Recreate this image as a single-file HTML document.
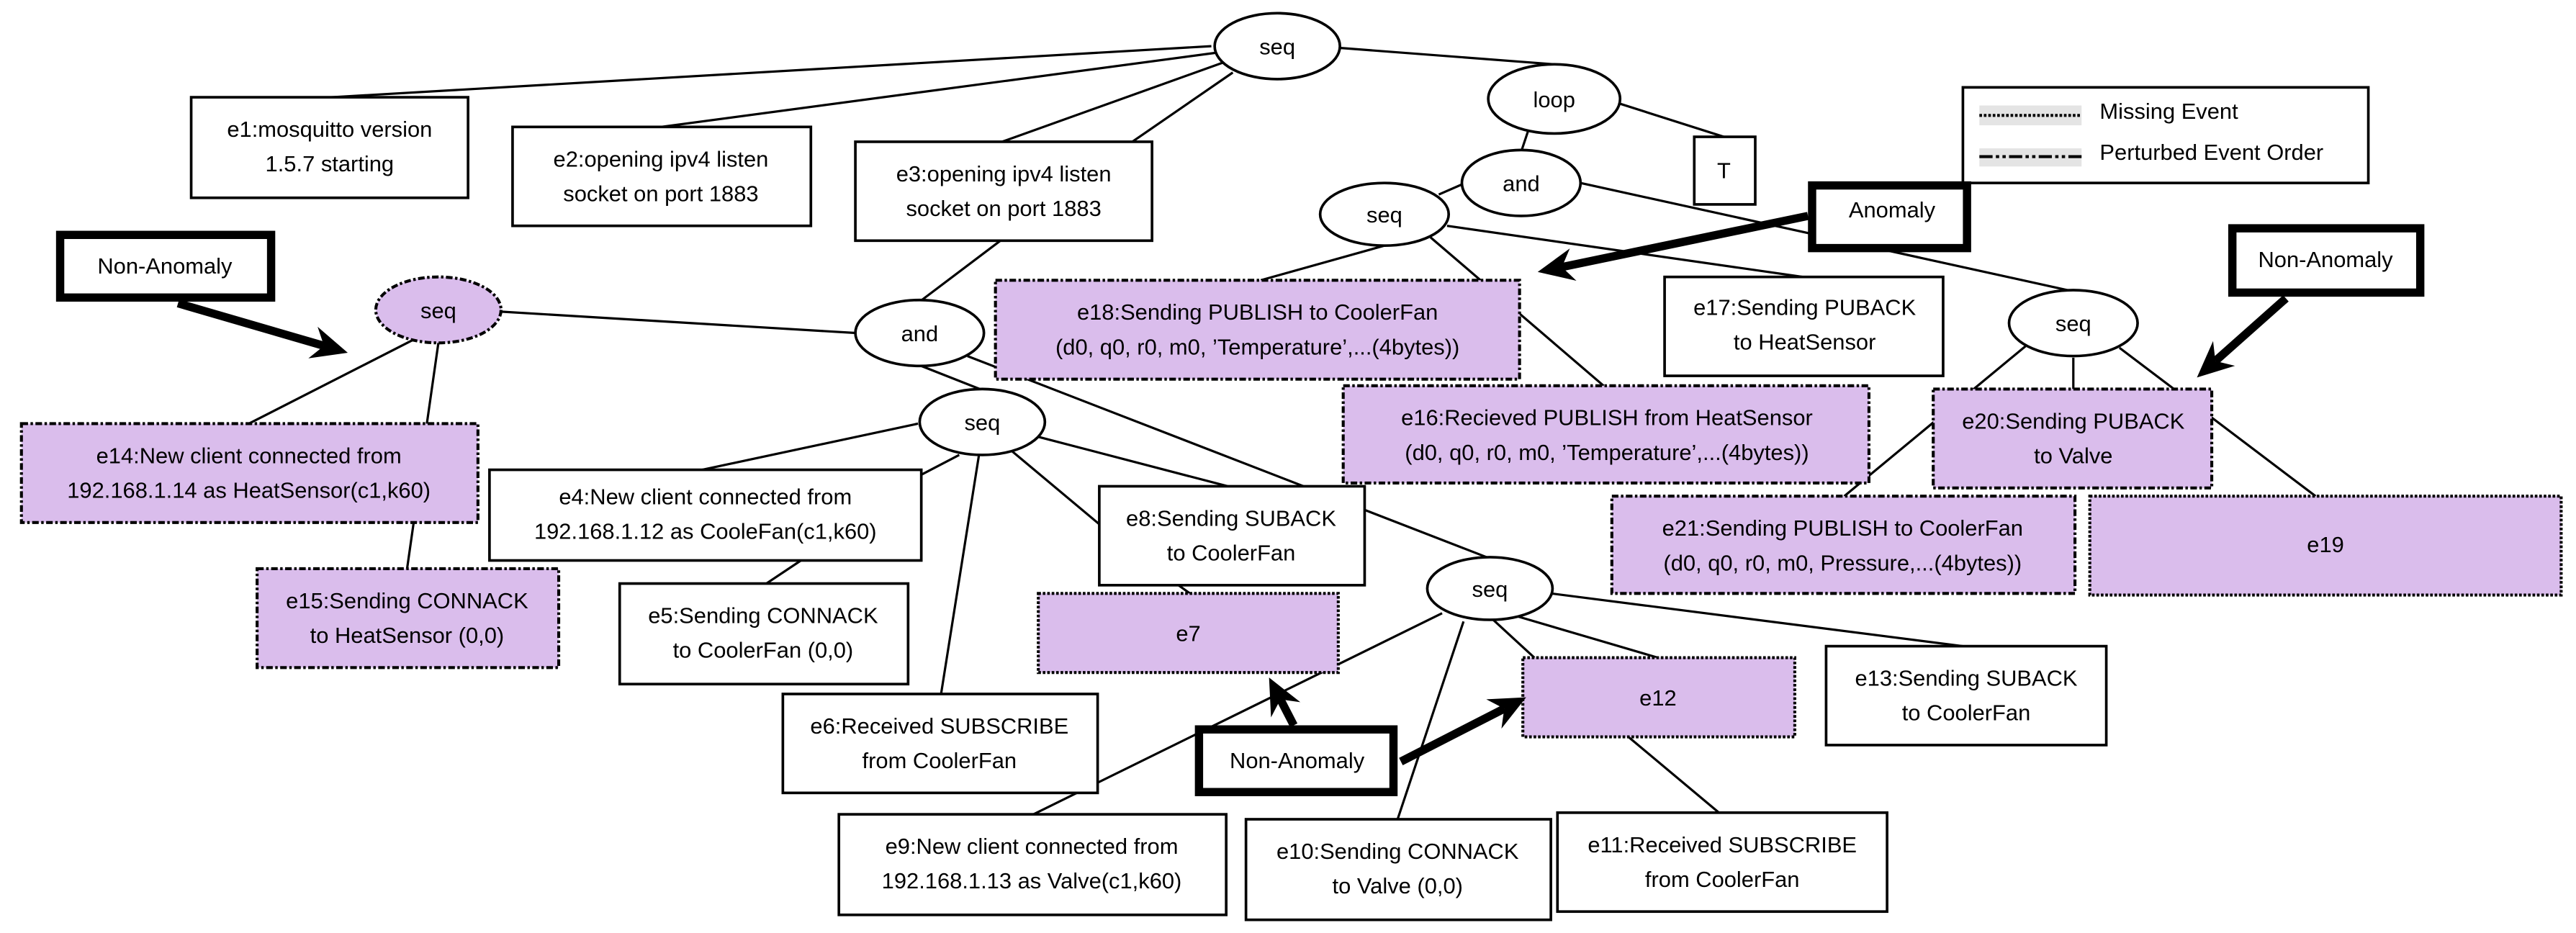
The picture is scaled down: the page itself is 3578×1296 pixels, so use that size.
<!DOCTYPE html>
<html><head><meta charset="utf-8"><style>
html,body{margin:0;padding:0;background:#fff;}
svg{display:block;}
text{font-family:"Liberation Sans",sans-serif;font-size:13.5px;fill:#000;}
</style></head><body>
<svg xmlns="http://www.w3.org/2000/svg" width="3578" height="1296" viewBox="0 0 1563 566" preserveAspectRatio="none">
<rect width="1563" height="566" fill="#fff"/>
<g stroke="#000" stroke-width="1.4" fill="none">
<line x1="735" y1="28" x2="201" y2="59"/>
<line x1="738" y1="32" x2="401" y2="77"/>
<line x1="742" y1="38" x2="608" y2="86"/>
<line x1="748" y1="44" x2="687" y2="86"/>
<line x1="812" y1="29" x2="943" y2="39"/>
<line x1="980" y1="62" x2="1046" y2="83"/>
<line x1="927" y1="80" x2="923" y2="92"/>
<line x1="889" y1="111" x2="873" y2="118"/>
<line x1="840" y1="149" x2="765" y2="170"/>
<line x1="868" y1="144" x2="973" y2="234"/>
<line x1="878" y1="137" x2="1094" y2="168"/>
<line x1="959" y1="111" x2="1259" y2="177"/>
<line x1="1229" y1="210" x2="1119" y2="301"/>
<line x1="1258" y1="217" x2="1258" y2="236"/>
<line x1="1286" y1="211" x2="1405" y2="301"/>
<line x1="607" y1="146" x2="558" y2="183"/>
<line x1="303" y1="189" x2="519" y2="202"/>
<line x1="251" y1="206" x2="151" y2="257"/>
<line x1="266" y1="208" x2="259" y2="257"/>
<line x1="251" y1="317" x2="247" y2="345"/>
<line x1="559" y1="222" x2="597" y2="237"/>
<line x1="587" y1="216" x2="902" y2="338"/>
<line x1="557" y1="257" x2="426" y2="285"/>
<line x1="582" y1="276" x2="559" y2="288"/>
<line x1="594" y1="276" x2="571" y2="421"/>
<line x1="612" y1="272" x2="667" y2="318"/>
<line x1="630" y1="265" x2="745" y2="295"/>
<line x1="486" y1="340" x2="465" y2="354"/>
<line x1="715" y1="355" x2="722" y2="360"/>
<line x1="875" y1="372" x2="627" y2="494"/>
<line x1="888" y1="377" x2="848" y2="497"/>
<line x1="906" y1="376" x2="931" y2="399"/>
<line x1="921" y1="374" x2="1006" y2="399"/>
<line x1="941" y1="360" x2="1191" y2="392"/>
<line x1="988" y1="447" x2="1043" y2="493"/>
</g>
<g stroke="#000" stroke-width="1.6">
<rect x="116" y="59" width="168" height="61" fill="#fff"/>
<rect x="311" y="77" width="181" height="60" fill="#fff"/>
<rect x="519" y="86" width="180" height="60" fill="#fff"/>
<rect x="297" y="285" width="262" height="55" fill="#fff"/>
<rect x="376" y="354" width="175" height="61" fill="#fff"/>
<rect x="475" y="421" width="191" height="60" fill="#fff"/>
<rect x="667" y="295" width="161" height="60" fill="#fff"/>
<rect x="509" y="494" width="235" height="61" fill="#fff"/>
<rect x="756" y="497" width="185" height="61" fill="#fff"/>
<rect x="945" y="493" width="200" height="60" fill="#fff"/>
<rect x="1108" y="392" width="170" height="60" fill="#fff"/>
<rect x="1010" y="168" width="169" height="60" fill="#fff"/>
<rect x="1028" y="83" width="37" height="41" fill="#fff"/>
<rect x="1191" y="53" width="246" height="58" fill="#fff"/>
</g>
<g stroke="#000" stroke-width="1.8" fill="#dabdec" stroke-dasharray="4 1.5 1.5 1.5">
<rect x="13" y="257" width="277" height="60"/>
<rect x="156" y="345" width="183" height="60"/>
<rect x="604" y="170" width="318" height="60"/>
<rect x="815" y="234" width="319" height="59"/>
<rect x="1173" y="236" width="169" height="60"/>
<rect x="978" y="301" width="281" height="59"/>
<ellipse cx="266" cy="188" rx="38" ry="20"/>
</g>
<g stroke="#000" stroke-width="1.8" fill="#dabdec" stroke-dasharray="1.6 1.1">
<rect x="630" y="360" width="182" height="48"/>
<rect x="924" y="399" width="165" height="48"/>
<rect x="1268" y="301" width="286" height="60"/>
</g>
<g stroke="#000" stroke-width="1.6" fill="#fff">
<ellipse cx="775" cy="28" rx="38" ry="20"/>
<ellipse cx="943" cy="60" rx="40" ry="21"/>
<ellipse cx="923" cy="111" rx="36" ry="20"/>
<ellipse cx="840" cy="130" rx="39" ry="19"/>
<ellipse cx="1258" cy="196" rx="39" ry="20"/>
<ellipse cx="558" cy="202" rx="39" ry="20"/>
<ellipse cx="596" cy="256" rx="38" ry="20"/>
<ellipse cx="904" cy="357" rx="38" ry="19"/>
</g>
<rect x="1201" y="64" width="62" height="12" fill="#e4e4e4"/>
<line x1="1201" y1="70" x2="1263" y2="70" stroke="#000" stroke-width="1.8" stroke-dasharray="1.6 1.1"/>
<rect x="1201" y="90" width="62" height="11" fill="#e4e4e4"/>
<line x1="1201" y1="95" x2="1263" y2="95" stroke="#000" stroke-width="1.8" stroke-dasharray="8 2 2 2 2 2"/>
<text x="1274" y="72">Missing Event</text>
<text x="1274" y="97">Perturbed Event Order</text>
<g stroke="#000" stroke-width="5" fill="#fff">
<rect x="1099.5" y="112.5" width="94" height="38"/>
<rect x="36.5" y="142.5" width="128" height="38"/>
<rect x="1354.5" y="138.5" width="114" height="39"/>
<rect x="727.5" y="442.5" width="118" height="38"/>
</g>
<g stroke="#000" stroke-width="5">
<line x1="108" y1="184" x2="196.6" y2="209.8"/>
<line x1="1097" y1="131" x2="947.7" y2="162"/>
<line x1="1387" y1="181" x2="1344.2" y2="219"/>
<line x1="785" y1="440" x2="776.9" y2="424.3"/>
<line x1="850" y1="462" x2="912.7" y2="429.9"/>
</g>
<g fill="#000">
<polygon points="211,214 187.1,217.4 196.6,209.8 192.7,198.2"/>
<polygon points="933,165 952.5,150.7 947.7,162 956.5,170.3"/>
<polygon points="1333,229 1342.8,206.9 1344.2,219 1356.1,221.9"/>
<polygon points="770,411 789,426 776.9,424.3 771.2,435.2"/>
<polygon points="926,423 911,442 912.7,429.9 901.8,424.2"/>
</g>
<g text-anchor="middle">
<text x="1148" y="132">Anomaly</text>
<text x="100" y="166">Non-Anomaly</text>
<text x="1411" y="162">Non-Anomaly</text>
<text x="787" y="466">Non-Anomaly</text>
<text x="775" y="33">seq</text>
<text x="943" y="65">loop</text>
<text x="923" y="116">and</text>
<text x="840" y="135">seq</text>
<text x="1258" y="201">seq</text>
<text x="266" y="193">seq</text>
<text x="558" y="207">and</text>
<text x="596" y="261">seq</text>
<text x="904" y="362">seq</text>
<text x="1046" y="108">T</text>
<text x="200" y="83">e1:mosquitto version</text><text x="200" y="104">1.5.7 starting</text>
<text x="401" y="101">e2:opening ipv4 listen</text><text x="401" y="122">socket on port 1883</text>
<text x="609" y="110">e3:opening ipv4 listen</text><text x="609" y="131">socket on port 1883</text>
<text x="151" y="281">e14:New client connected from</text><text x="151" y="302">192.168.1.14 as HeatSensor(c1,k60)</text>
<text x="247" y="369">e15:Sending CONNACK</text><text x="247" y="390">to HeatSensor (0,0)</text>
<text x="428" y="306">e4:New client connected from</text><text x="428" y="327">192.168.1.12 as CooleFan(c1,k60)</text>
<text x="463" y="378">e5:Sending CONNACK</text><text x="463" y="399">to CoolerFan (0,0)</text>
<text x="570" y="445">e6:Received SUBSCRIBE</text><text x="570" y="466">from CoolerFan</text>
<text x="747" y="319">e8:Sending SUBACK</text><text x="747" y="340">to CoolerFan</text>
<text x="721" y="389">e7</text>
<text x="626" y="518">e9:New client connected from</text><text x="626" y="539">192.168.1.13 as Valve(c1,k60)</text>
<text x="848" y="521">e10:Sending CONNACK</text><text x="848" y="542">to Valve (0,0)</text>
<text x="1045" y="517">e11:Received SUBSCRIBE</text><text x="1045" y="538">from CoolerFan</text>
<text x="1006" y="428">e12</text>
<text x="1193" y="416">e13:Sending SUBACK</text><text x="1193" y="437">to CoolerFan</text>
<text x="763" y="194">e18:Sending PUBLISH to CoolerFan</text><text x="763" y="215">(d0, q0, r0, m0, ’Temperature’,...(4bytes))</text>
<text x="975" y="258">e16:Recieved PUBLISH from HeatSensor</text><text x="975" y="279">(d0, q0, r0, m0, ’Temperature’,...(4bytes))</text>
<text x="1095" y="191">e17:Sending PUBACK</text><text x="1095" y="212">to HeatSensor</text>
<text x="1258" y="260">e20:Sending PUBACK</text><text x="1258" y="281">to Valve</text>
<text x="1118" y="325">e21:Sending PUBLISH to CoolerFan</text><text x="1118" y="346">(d0, q0, r0, m0, Pressure,...(4bytes))</text>
<text x="1411" y="335">e19</text>
</g>
</svg>
</body></html>
